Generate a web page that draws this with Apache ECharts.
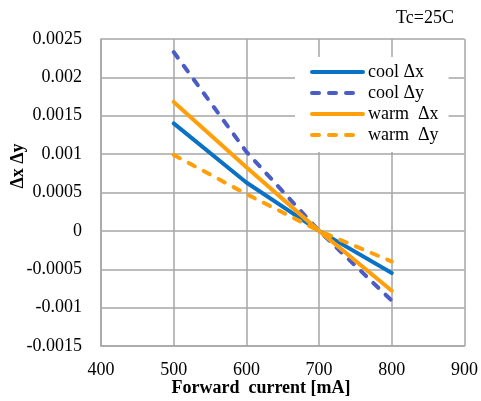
<!DOCTYPE html>
<html><head><meta charset="utf-8">
<script src="https://cdn.jsdelivr.net/npm/echarts@6/dist/echarts.min.js"></script>
<style>html,body{margin:0;padding:0;background:#fff}#c{width:481px;height:401px}</style>
</head><body><div id="c"></div>
<script>
const currents = [500, 600, 700, 800];
const coolDx = [0.0014, 0.00063, 0, -0.00055];
const coolDy = [0.00233, 0.00103, 0, -0.00091];
const warmDx = [0.00168, 0.00083, 0, -0.00078];
const warmDy = [0.00099, 0.00048, 0, -0.0004];
const seriesNames = ['cool Δx', 'cool Δy', 'warm  Δx', 'warm  Δy'];
const xTicks = {min: 400, max: 900, interval: 100};
const yTicks = {min: -0.0015, max: 0.0025, interval: 0.0005};

const FONT = '"Liberation Serif", "Times New Roman", serif';
const grid = '#a6a6a6';
const DASH = [7, 10];
function mk(name, vals, color, dashed) {
  return {
    name, type: 'line', symbol: 'none',
    data: currents.map((c, i) => [c, vals[i]]),
    lineStyle: {color, width: 4, type: dashed ? DASH : 'solid', cap: 'round'},
    itemStyle: {color}
  };
}
const chart = echarts.init(document.getElementById('c'), null, {renderer: 'canvas'});
chart.setOption({
  animation: false,
  backgroundColor: '#fff',
  title: {text: 'Tc=25C', right: 22, top: 4, textStyle: {fontFamily: FONT, fontSize: 18, fontWeight: 'normal', color: '#000'}},
  grid: {left: 101, right: 16, top: 39, bottom: 55},
  xAxis: {
    type: 'value', min: xTicks.min, max: xTicks.max, interval: xTicks.interval,
    axisLine: {show: true, onZero: false, lineStyle: {color: grid, width: 1.5}},
    axisTick: {show: false},
    splitLine: {show: true, lineStyle: {color: grid, width: 1.5}},
    axisLabel: {fontFamily: FONT, fontSize: 18, color: '#000', margin: 15}
  },
  yAxis: {
    type: 'value', min: yTicks.min, max: yTicks.max, interval: yTicks.interval,
    axisLine: {show: true, lineStyle: {color: grid, width: 1.5}},
    axisTick: {show: false},
    splitLine: {show: true, lineStyle: {color: grid, width: 1.5}},
    axisLabel: {fontFamily: FONT, fontSize: 18, color: '#000', margin: 19,
      formatter: v => String(+v.toFixed(4))}
  },
  legend: {
    orient: 'vertical', left: 295, top: 57,
    backgroundColor: '#fff', padding: [6, 10, 8, 15],
    itemWidth: 51, itemHeight: 14, itemGap: 3,
    itemStyle: {opacity: 0},
    lineStyle: {width: 4, cap: 'round'},
    data: seriesNames,
    textStyle: {fontFamily: FONT, fontSize: 18, color: '#000'}
  },
  graphic: [
    {type: 'text', position: [261, 388], style: {text: 'Forward  current [mA]', fontFamily: FONT, fontSize: 18, fontWeight: 'bold', fill: '#000', textAlign: 'center', textVerticalAlign: 'middle'}},
    {type: 'text', position: [18, 166], rotation: Math.PI / 2, style: {text: 'Δx Δy', fontFamily: FONT, fontSize: 18, fontWeight: 'bold', fill: '#000', textAlign: 'center', textVerticalAlign: 'middle'}}
  ],
  series: [
    mk(seriesNames[0], coolDx, '#0a72c4', false),
    mk(seriesNames[1], coolDy, '#4a5cc6', true),
    mk(seriesNames[2], warmDx, '#ff9f0a', false),
    mk(seriesNames[3], warmDy, '#ff9f0a', true)
  ]
});
</script></body></html>
